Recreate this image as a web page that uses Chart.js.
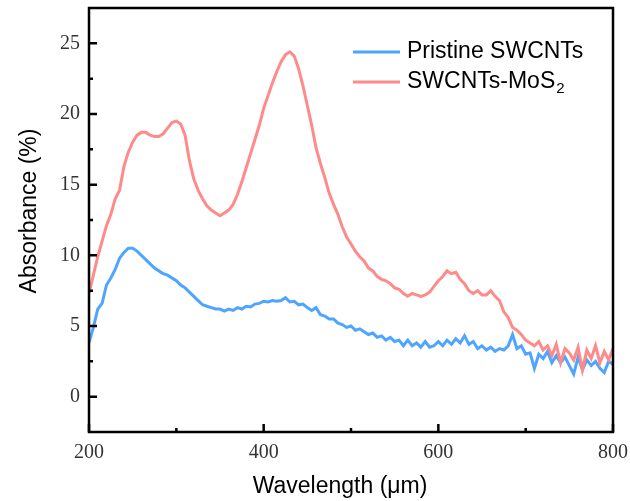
<!DOCTYPE html>
<html>
<head>
<meta charset="utf-8">
<title>Absorbance spectra</title>
<script src="https://cdn.jsdelivr.net/npm/chart.js@4.4.1/dist/chart.umd.min.js"></script>
<style>
  html, body { margin: 0; padding: 0; background: #fff; }
  #wrap { width: 630px; height: 501px; }
</style>
</head>
<body>
<div id="wrap"><canvas id="absChart" width="630" height="501"></canvas></div>
<script>
  // ── Data (5 nm steps) ────────────────────────────────────────
  const wavelengths = [
    200,205,210,215,220,225,230,235,240,245,250,255,260,265,270,275,280,285,290,295,
    300,305,310,315,320,325,330,335,340,345,350,355,360,365,370,375,380,385,390,395,
    400,405,410,415,420,425,430,435,440,445,450,455,460,465,470,475,480,485,490,495,
    500,505,510,515,520,525,530,535,540,545,550,555,560,565,570,575,580,585,590,595,
    600,605,610,615,620,625,630,635,640,645,650,655,660,665,670,675,680,685,690,695,
    700,705,710,715,720,725,730,735,740,745,750,755,760,765,770,775,780,785,790,795,
    800
  ];

  const pristine = [
    3.8, 4.9, 6.2, 6.6, 7.9, 8.4, 9.0, 9.8, 10.2, 10.5, 10.5, 10.3, 10.0, 9.7, 9.4, 9.1, 8.9, 8.7, 8.6, 8.4,
    8.2, 7.9, 7.7, 7.4, 7.1, 6.8, 6.5, 6.4, 6.3, 6.2, 6.2, 6.05, 6.2, 6.1, 6.3, 6.2, 6.4, 6.35, 6.55, 6.6,
    6.75, 6.7, 6.8, 6.75, 6.8, 7.0, 6.7, 6.75, 6.5, 6.55, 6.3, 6.1, 6.3, 5.8, 5.7, 5.5, 5.5, 5.2, 5.1, 4.9,
    5.0, 4.7, 4.8, 4.6, 4.4, 4.5, 4.2, 4.3, 4.0, 4.2, 3.9, 4.0, 3.6, 4.0, 3.6, 3.8, 3.5, 3.9, 3.5, 3.6,
    3.9, 3.6, 4.0, 3.7, 4.1, 3.8, 4.3, 3.7, 3.9, 3.4, 3.6, 3.3, 3.5, 3.2, 3.4, 3.3, 3.6, 4.4, 3.4, 3.6,
    3.0, 3.1, 2.0, 3.0, 2.7, 3.2, 2.4, 2.9, 2.4, 2.8, 2.2, 1.6, 2.8, 1.9, 2.6, 2.2, 2.5, 2.0, 1.7, 2.5,
    2.3
  ];

  const mos2 = [
    7.3, 8.6, 9.9, 11.0, 12.1, 12.9, 14.0, 14.6, 16.3, 17.3, 18.0, 18.5, 18.7, 18.7, 18.5, 18.4, 18.4, 18.6, 19.0, 19.4,
    19.5, 19.3, 18.5, 16.7, 15.4, 14.6, 14.0, 13.5, 13.2, 13.0, 12.8, 13.0, 13.2, 13.6, 14.3, 15.2, 16.2, 17.2, 18.2, 19.2,
    20.4, 21.3, 22.2, 23.0, 23.7, 24.2, 24.4, 24.1, 23.2, 22.0, 20.6, 19.2, 17.6, 16.5, 15.5, 14.4, 13.6, 12.9, 12.0, 11.3,
    10.8, 10.3, 9.9, 9.6, 9.1, 8.9, 8.5, 8.3, 8.2, 8.0, 7.7, 7.6, 7.3, 7.1, 7.3, 7.2, 7.1, 7.2, 7.4, 7.8,
    8.2, 8.5, 8.9, 8.7, 8.8, 8.3, 8.0, 7.5, 7.3, 7.5, 7.2, 7.2, 7.5, 7.1, 6.8, 6.0, 5.6, 4.9, 4.7, 4.4,
    4.0, 3.8, 3.6, 3.9, 3.3, 3.6, 2.9, 3.7, 2.4, 3.4, 3.1, 2.6, 3.5, 1.9, 3.3, 2.7, 3.6, 2.4, 3.2, 2.6,
    3.4
  ];

  const seriesLabels = ['Pristine SWCNTs', 'SWCNTs-MoS'];
  const seriesColors = ['#4ea5ff', '#ff8a8a'];

  const xTicks      = [200, 400, 600, 800];
  const xMinorTicks = [300, 500, 700];
  const yTicks      = [0, 5, 10, 15, 20, 25];
  const yMinorTicks = [2.5, 7.5, 12.5, 17.5, 22.5];

  const toPoints = ys => ys.map((y, i) => ({ x: wavelengths[i], y }));

  // ── Frame, inward ticks, titles and legend ──────────────────
  const framePlugin = {
    id: 'frame',
    afterDraw(chart) {
      const { ctx, chartArea: a, scales: { x, y } } = chart;
      ctx.save();
      ctx.strokeStyle = '#000';
      ctx.lineWidth = 2.5;
      ctx.strokeRect(a.left, a.top, a.right - a.left, a.bottom - a.top);

      ctx.beginPath();
      xTicks.forEach(v => {
        const px = x.getPixelForValue(v);
        ctx.moveTo(px, a.bottom); ctx.lineTo(px, a.bottom - 8);
      });
      xMinorTicks.forEach(v => {
        const px = x.getPixelForValue(v);
        ctx.moveTo(px, a.bottom); ctx.lineTo(px, a.bottom - 4);
      });
      yTicks.forEach(v => {
        const py = y.getPixelForValue(v);
        ctx.moveTo(a.left, py); ctx.lineTo(a.left + 8, py);
      });
      yMinorTicks.forEach(v => {
        const py = y.getPixelForValue(v);
        ctx.moveTo(a.left, py); ctx.lineTo(a.left + 4, py);
      });
      ctx.stroke();

      // axis titles
      ctx.fillStyle = '#000';
      ctx.font = '23px "Liberation Sans", Arial, sans-serif';
      ctx.textAlign = 'center';
      ctx.textBaseline = 'middle';
      ctx.fillText('Wavelength (\u03bcm)', 340, 487);
      ctx.save();
      ctx.translate(30, 211);
      ctx.rotate(-Math.PI / 2);
      ctx.fillText('Absorbance (%)', 0, 0);
      ctx.restore();

      // legend
      ctx.textAlign = 'left';
      const rows = [52, 82];
      rows.forEach((ry, i) => {
        ctx.strokeStyle = seriesColors[i];
        ctx.lineWidth = 3;
        ctx.beginPath();
        ctx.moveTo(353, ry); ctx.lineTo(400, ry);
        ctx.stroke();
        ctx.fillStyle = '#000';
        ctx.font = '23px "Liberation Sans", Arial, sans-serif';
        ctx.fillText(seriesLabels[i], 407, ry);
        if (i === 1) {
          const w = ctx.measureText(seriesLabels[i]).width;
          ctx.font = '15px "Liberation Sans", Arial, sans-serif';
          ctx.fillText('2', 407 + w + 1, ry + 7);
        }
      });
      ctx.restore();
    }
  };

  new Chart(document.getElementById('absChart'), {
    type: 'line',
    data: {
      datasets: [
        {
          label: seriesLabels[0],
          data: toPoints(pristine),
          borderColor: seriesColors[0],
          borderWidth: 3,
          pointRadius: 0,
          tension: 0,
          order: 1
        },
        {
          label: seriesLabels[1],
          data: toPoints(mos2),
          borderColor: seriesColors[1],
          borderWidth: 3,
          pointRadius: 0,
          tension: 0,
          order: 0
        }
      ]
    },
    options: {
      responsive: false,
      animation: false,
      devicePixelRatio: 1,
      layout: { padding: { top: 8, right: 17, left: 0, bottom: 0 } },
      plugins: {
        legend:  { display: false },
        tooltip: { enabled: false }
      },
      scales: {
        x: {
          type: 'linear',
          min: 200, max: 800,
          grid: { display: false },
          border: { display: false },
          ticks: {
            font: { family: '"Liberation Serif", "Times New Roman", serif', size: 20 },
            color: '#333',
            padding: 1,
            maxRotation: 0
          },
          afterBuildTicks: s => { s.ticks = xTicks.map(v => ({ value: v })); },
          afterFit: s => {
            s.height = 69;
            s.paddingLeft = 0; s.paddingRight = 0;
          }
        },
        y: {
          type: 'linear',
          min: -2.5, max: 27.5,
          grid: { display: false },
          border: { display: false },
          ticks: {
            font: { family: '"Liberation Serif", "Times New Roman", serif', size: 20 },
            color: '#333',
            padding: 1
          },
          afterBuildTicks: s => { s.ticks = yTicks.map(v => ({ value: v })); },
          afterFit: s => {
            s.width = 89;
            s.paddingTop = 0; s.paddingBottom = 0;
          }
        }
      }
    },
    plugins: [framePlugin]
  });
</script>
</body>
</html>
